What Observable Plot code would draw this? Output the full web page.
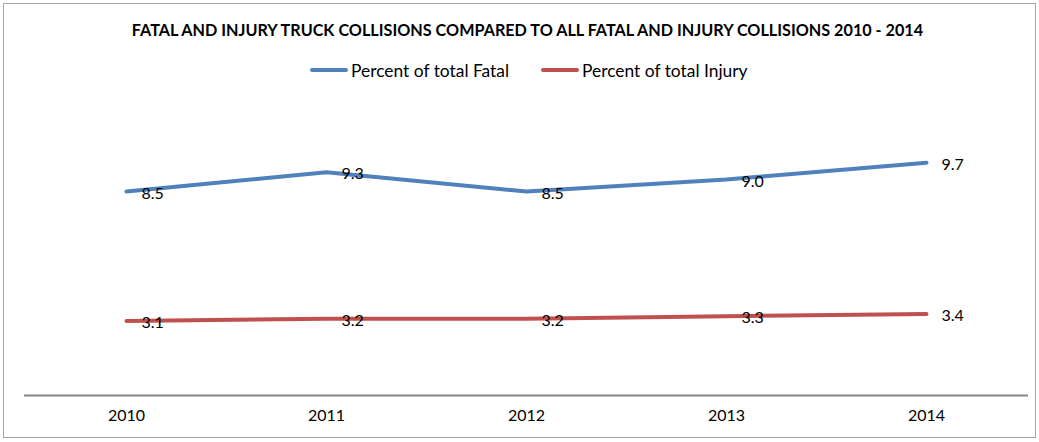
<!DOCTYPE html>
<html>
<head>
<meta charset="utf-8">
<script src="https://cdn.jsdelivr.net/npm/d3@7"></script>
<script src="https://cdn.jsdelivr.net/npm/@observablehq/plot@0.6"></script>
<style>
  html, body { margin: 0; padding: 0; background: #fff; }
  #frame { position: absolute; left: 3px; top: 3px; width: 1033px; height: 435px; border: 1px solid #a6a6a6; box-sizing: border-box; font-family: Lato, "Open Sans", sans-serif; }
  #title { position: absolute; left: 0; top: 16px; width: 1047px; text-align: center; font-weight: bold; font-size: 16.2px; line-height: 20px; color: #000; white-space: nowrap; }
  .leg { position: absolute; top: 55px; height: 22px; display: flex; align-items: center; font-size: 17.4px; color: #000; white-space: nowrap; }
  .sw { display: inline-block; width: 38px; height: 4px; border-radius: 2px; margin-right: 3px; }
  #chart { position: absolute; left: 0; top: 87px; }
</style>
</head>
<body>
<div id="frame">
  <div id="title">FATAL AND INJURY TRUCK COLLISIONS COMPARED TO ALL FATAL AND INJURY COLLISIONS 2010 - 2014</div>
  <div class="leg" id="leg1" style="left:306px"><span class="sw" style="background:#4F81BD"></span>Percent of total Fatal</div>
  <div class="leg" id="leg2" style="left:537px"><span class="sw" style="background:#C0504D"></span>Percent of total Injury</div>
  <div id="chart"></div>
</div>
<script>
const years = ["2010", "2011", "2012", "2013", "2014"];
const fatalValues = [8.5, 9.3, 8.5, 9.0, 9.7];
const injuryValues = [3.1, 3.2, 3.2, 3.3, 3.4];
const seriesNames = ["Percent of total Fatal", "Percent of total Injury"];
const seriesColors = ["#4F81BD", "#C0504D"];

const rows = [];
years.forEach((y, i) => {
  rows.push({year: y, value: fatalValues[i], series: seriesNames[0]});
  rows.push({year: y, value: injuryValues[i], series: seriesNames[1]});
});

const plot = Plot.plot({
  width: 1031,
  height: 344,
  marginLeft: 20,
  marginRight: 7,
  marginTop: 16,
  marginBottom: 40,
  style: {fontFamily: "Lato, 'Open Sans', sans-serif", fontSize: "16px", color: "#000", background: "transparent"},
  x: {type: "point", domain: years, padding: 0.5, label: null, tickSize: 0, tickPadding: 14},
  y: {domain: [0, 12], axis: null},
  color: {domain: seriesNames, range: seriesColors},
  marks: [
    Plot.ruleY([0], {stroke: "#868686", strokeWidth: 2}),
    Plot.line(rows, {x: "year", y: "value", z: "series", stroke: "series", strokeWidth: 4, strokeLinecap: "round", strokeLinejoin: "round"}),
    Plot.text(rows, {x: "year", y: "value", text: d => d.value.toFixed(1), textAnchor: "start", dx: 15, dy: 2, fill: "#000", fontSize: 16})
  ]
});
document.getElementById("chart").appendChild(plot);
</script>
</body>
</html>
